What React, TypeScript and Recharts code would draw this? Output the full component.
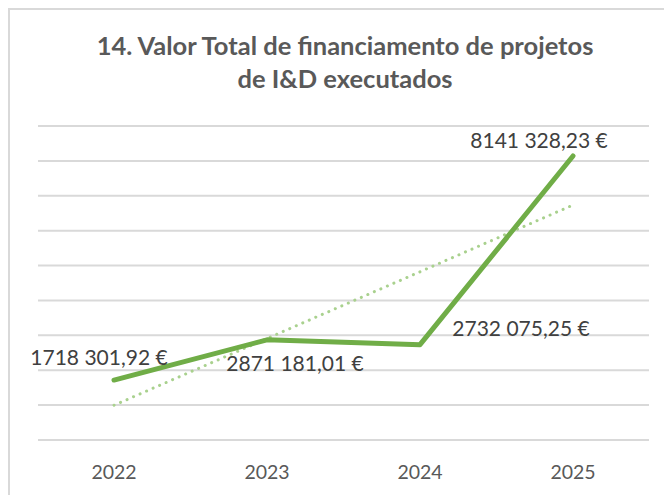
import * as React from "react"
import { CartesianGrid, Line, LineChart, XAxis, YAxis } from "recharts"

const years = ["2022", "2023", "2024", "2025"]
const totals = [1718301.92, 2871181.01, 2732075.25, 8141328.23]
// linear trend line
const trend = [996000, 2909000, 4822000, 6735000]
const valueLabels = ["1718 301,92 €", "2871 181,01 €", "2732 075,25 €", "8141 328,23 €"]
const yTicks = [0, 1000000, 2000000, 3000000, 4000000, 5000000, 6000000, 7000000, 8000000, 9000000]

const data = years.map((year, i) => ({ year, total: totals[i], trend: trend[i] }))

// where each value label sits relative to its point
const labelOffsets = [
  { dx: -15, dy: -24 },
  { dx: 28, dy: 23 },
  { dx: 101, dy: -17 },
  { dx: -34, dy: -16 },
]

const FONT = "Lato, 'Open Sans', sans-serif"

const ValueLabel = (props: any) => {
  const { x, y, index } = props
  const off = labelOffsets[index]
  return (
    <text
      x={x + off.dx}
      y={y + off.dy}
      textAnchor="middle"
      dominantBaseline="central"
      fontSize={21}
      fontFamily={FONT}
      fill="#404040"
    >
      {valueLabels[index]}
    </text>
  )
}

export default function App() {
  return (
    <div style={{ position: "relative", width: 664, height: 487, background: "#fff", overflow: "hidden" }}>
      <div
        style={{
          position: "absolute",
          left: 0,
          top: 0,
          width: 700,
          height: 520,
          borderTop: "2px solid #d9d9d9",
          borderLeft: "2px solid #d9d9d9",
          pointerEvents: "none",
        }}
      />
      <div
        style={{
          position: "absolute",
          left: 0,
          top: 21,
          width: 674,
          textAlign: "center",
          fontFamily: FONT,
          fontWeight: 700,
          fontSize: 25.5,
          lineHeight: "33px",
          color: "#595959",
        }}
      >
        14. Valor Total de financiamento de projetos
        <br />
        de I&amp;D executados
      </div>
      <LineChart width={664} height={487} data={data} margin={{ top: 118, right: 23, bottom: 25, left: 30 }}>
        <CartesianGrid vertical={false} stroke="#d9d9d9" strokeWidth={2} />
        <XAxis
          dataKey="year"
          axisLine={false}
          tickLine={false}
          padding={{ left: 76, right: 76 }}
          tick={{ fontSize: 19.5, fontFamily: FONT, fill: "#595959" }}
          dy={17}
        />
        <YAxis hide domain={[0, 9000000]} ticks={yTicks} />
        <Line
          dataKey="trend"
          stroke="#a9d18e"
          strokeWidth={3}
          strokeDasharray="0.1 7"
          strokeLinecap="round"
          dot={false}
          isAnimationActive={false}
        />
        <Line
          dataKey="total"
          stroke="#70ad47"
          strokeWidth={5}
          strokeLinecap="round"
          strokeLinejoin="round"
          dot={false}
          label={<ValueLabel />}
          isAnimationActive={false}
        />
      </LineChart>
    </div>
  )
}
